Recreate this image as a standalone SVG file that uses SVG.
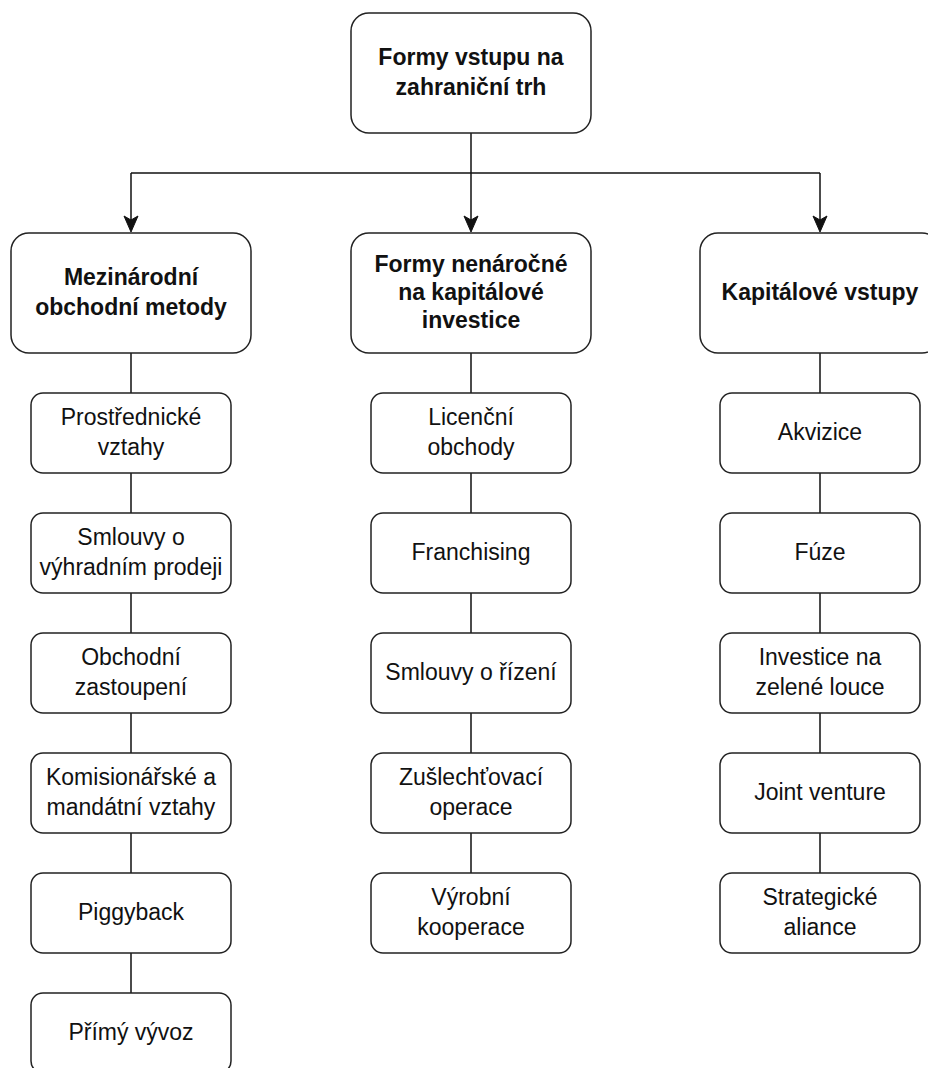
<svg xmlns="http://www.w3.org/2000/svg" width="928" height="1068" viewBox="0 0 928 1068">
<defs>
<style>
.box{fill:#fff;stroke:#222;stroke-width:1.5}
.t{font-family:"Liberation Sans",Arial,sans-serif;font-size:23px;fill:#111;text-anchor:middle}
.b{font-weight:bold}
.c{fill:none;stroke:#111;stroke-width:1.5}
.ah{fill:#111;stroke:#111;stroke-width:1}
</style>
</defs>
<rect width="928" height="1068" fill="#fff"/>
<g id="connectors">
<path class="c" d="M471,133 V222"/>
<path class="c" d="M131,173 H820"/>
<path class="c" d="M131,173 V222"/>
<path class="c" d="M820,173 V222"/>
<path class="ah" d="M471,232 L464,216 L471,220 L478,216 Z"/>
<path class="ah" d="M131,232 L124,216 L131,220 L138,216 Z"/>
<path class="ah" d="M820,232 L813,216 L820,220 L827,216 Z"/>
<path class="c" d="M131,353 V393 M131,473 V513 M131,593 V633 M131,713 V753 M131,833 V873 M131,953 V993"/>
<path class="c" d="M471,353 V393 M471,473 V513 M471,593 V633 M471,713 V753 M471,833 V873"/>
<path class="c" d="M820,353 V393 M820,473 V513 M820,593 V633 M820,713 V753 M820,833 V873"/>
</g>
<g id="root">
<rect class="box" x="351" y="13" width="240" height="120" rx="18"/>
<text class="t b" x="471" y="65">Formy vstupu na</text>
<text class="t b" x="471" y="95">zahraniční trh</text>
</g>
<g id="cat1">
<rect class="box" x="11" y="233" width="240" height="120" rx="18"/>
<text class="t b" x="131" y="285">Mezinárodní</text>
<text class="t b" x="131" y="315">obchodní metody</text>
</g>
<g id="cat2">
<rect class="box" x="351" y="233" width="240" height="120" rx="18"/>
<text class="t b" x="471" y="272">Formy nenáročné</text>
<text class="t b" x="471" y="300">na kapitálové</text>
<text class="t b" x="471" y="328">investice</text>
</g>
<g id="cat3">
<rect class="box" x="700" y="233" width="240" height="120" rx="18"/>
<text class="t b" x="820" y="300">Kapitálové vstupy</text>
</g>
<g id="l1">
<rect class="box" x="31" y="393" width="200" height="80" rx="12"/>
<text class="t" x="131" y="425">Prostřednické</text>
<text class="t" x="131" y="455">vztahy</text>
</g>
<g id="l2">
<rect class="box" x="31" y="513" width="200" height="80" rx="12"/>
<text class="t" x="131" y="545">Smlouvy o</text>
<text class="t" x="131" y="575">výhradním prodeji</text>
</g>
<g id="l3">
<rect class="box" x="31" y="633" width="200" height="80" rx="12"/>
<text class="t" x="131" y="665">Obchodní</text>
<text class="t" x="131" y="695">zastoupení</text>
</g>
<g id="l4">
<rect class="box" x="31" y="753" width="200" height="80" rx="12"/>
<text class="t" x="131" y="785">Komisionářské a</text>
<text class="t" x="131" y="815">mandátní vztahy</text>
</g>
<g id="l5">
<rect class="box" x="31" y="873" width="200" height="80" rx="12"/>
<text class="t" x="131" y="920">Piggyback</text>
</g>
<g id="l6">
<rect class="box" x="31" y="993" width="200" height="80" rx="12"/>
<text class="t" x="131" y="1040">Přímý vývoz</text>
</g>
<g id="m1">
<rect class="box" x="371" y="393" width="200" height="80" rx="12"/>
<text class="t" x="471" y="425">Licenční</text>
<text class="t" x="471" y="455">obchody</text>
</g>
<g id="m2">
<rect class="box" x="371" y="513" width="200" height="80" rx="12"/>
<text class="t" x="471" y="560">Franchising</text>
</g>
<g id="m3">
<rect class="box" x="371" y="633" width="200" height="80" rx="12"/>
<text class="t" x="471" y="680">Smlouvy o řízení</text>
</g>
<g id="m4">
<rect class="box" x="371" y="753" width="200" height="80" rx="12"/>
<text class="t" x="471" y="785">Zušlechťovací</text>
<text class="t" x="471" y="815">operace</text>
</g>
<g id="m5">
<rect class="box" x="371" y="873" width="200" height="80" rx="12"/>
<text class="t" x="471" y="905">Výrobní</text>
<text class="t" x="471" y="935">kooperace</text>
</g>
<g id="r1">
<rect class="box" x="720" y="393" width="200" height="80" rx="12"/>
<text class="t" x="820" y="440">Akvizice</text>
</g>
<g id="r2">
<rect class="box" x="720" y="513" width="200" height="80" rx="12"/>
<text class="t" x="820" y="560">Fúze</text>
</g>
<g id="r3">
<rect class="box" x="720" y="633" width="200" height="80" rx="12"/>
<text class="t" x="820" y="665">Investice na</text>
<text class="t" x="820" y="695">zelené louce</text>
</g>
<g id="r4">
<rect class="box" x="720" y="753" width="200" height="80" rx="12"/>
<text class="t" x="820" y="800">Joint venture</text>
</g>
<g id="r5">
<rect class="box" x="720" y="873" width="200" height="80" rx="12"/>
<text class="t" x="820" y="905">Strategické</text>
<text class="t" x="820" y="935">aliance</text>
</g>
</svg>
